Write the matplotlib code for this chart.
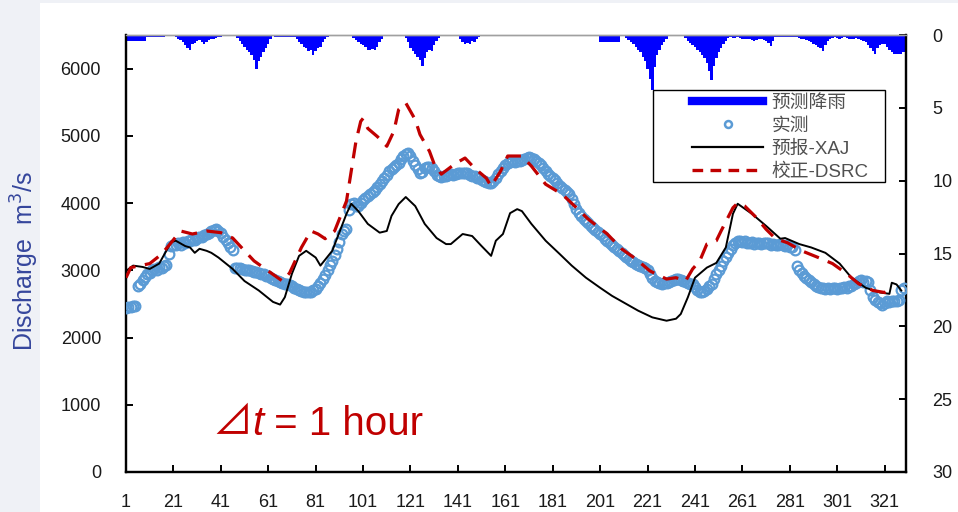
import matplotlib
matplotlib.use("Agg")
import matplotlib.pyplot as plt
from matplotlib.lines import Line2D
from matplotlib.patches import Rectangle
from matplotlib.offsetbox import TextArea, HPacker, AnchoredOffsetbox
import numpy as np

plt.rcParams['font.family'] = ['Liberation Sans', 'Noto Sans CJK SC', 'DejaVu Sans']

# observed discharge (m3/s), one value per time step 1..329
observed = [
    2440, 2450, 2460, 2470, 2470, 2760, 2790, 2850, 2900, 2950,
    2960, 3000, 3020, 3010, 3050, 3040, 3060, 3080, 3250, 3360,
    3380, 3370, 3400, 3380, 3420, 3400, 3440, 3430, 3460, 3450,
    3480, 3490, 3500, 3520, 3540, 3550, 3580, 3600, 3610, 3590,
    3560, 3500, 3450, 3400, 3350, 3300, 3040, 3030, 3040, 3020,
    3010, 3000, 3000, 2990, 2980, 2970, 2960, 2950, 2940, 2920,
    2910, 2890, 2870, 2860, 2840, 2830, 2810, 2800, 2790, 2780,
    2760, 2740, 2720, 2700, 2690, 2680, 2680, 2670, 2680, 2700,
    2720, 2760, 2810, 2870, 2930, 3000, 3080, 3140, 3230, 3320,
    3420, 3540, 3590, 3620, 3900, 3980, 4000, 3960, 3950, 4000,
    4040, 4070, 4100, 4130, 4170, 4200, 4240, 4280, 4330, 4380,
    4420, 4470, 4500, 4540, 4570, 4590, 4650, 4700, 4730, 4740,
    4700, 4620, 4560, 4500, 4450, 4460, 4520, 4540, 4530, 4520,
    4470, 4420, 4400, 4390, 4400, 4410, 4420, 4430, 4420, 4430,
    4440, 4450, 4440, 4450, 4440, 4420, 4410, 4400, 4380, 4370,
    4350, 4330, 4310, 4300, 4300, 4330, 4380, 4430, 4480, 4520,
    4560, 4590, 4610, 4620, 4610, 4620, 4630, 4640, 4650, 4670,
    4680, 4670, 4650, 4620, 4590, 4560, 4520, 4470, 4430, 4400,
    4370, 4340, 4300, 4260, 4220, 4190, 4160, 4130, 4060, 3980,
    3910, 3850, 3810, 3770, 3730, 3700, 3660, 3630, 3600, 3570,
    3540, 3510, 3470, 3440, 3410, 3380, 3350, 3320, 3290, 3260,
    3230, 3200, 3170, 3140, 3120, 3100, 3080, 3060, 3050, 3040,
    3000, 2950, 2890, 2840, 2820, 2810, 2800, 2810, 2810, 2820,
    2840, 2860, 2870, 2870, 2860, 2840, 2830, 2810, 2800, 2790,
    2750, 2700, 2680, 2670, 2690, 2720, 2760, 2800, 2870, 2940,
    3000, 3070, 3140, 3200, 3260, 3320, 3370, 3410, 3430, 3440,
    3420, 3430, 3410, 3400, 3420, 3390, 3400, 3410, 3390, 3400,
    3410, 3400, 3380, 3390, 3370, 3380, 3390, 3370, 3360, 3380,
    3350, 3340, 3300, 3070, 3010, 2960, 2920, 2890, 2850, 2820,
    2790, 2770, 2750, 2740, 2730, 2720, 2730, 2720, 2740, 2730,
    2720, 2740, 2730, 2750, 2740, 2760, 2770, 2790, 2810, 2840,
    2850, 2830, 2840, 2820, 2700, 2600, 2560, 2530, 2510, 2480,
    2520, 2540, 2530, 2550, 2540, 2550, 2560, 2700, 2740,
]

# forecast rainfall (mm), one value per time step
rain = [
    0.4, 0.4, 0.4, 0.4, 0.4, 0.4, 0.4, 0.4, 0.4,
    0.15, 0.15, 0.15, 0.15, 0.15, 0.15, 0.15, 0.15,
    0, 0, 0,
    0.1, 0.15, 0.25, 0.35, 0.5, 0.7, 0.9, 1.0,
    0.6, 0.55, 0.4, 0.35, 0.45, 0.6, 0.45, 0.35, 0.3, 0.25, 0.2, 0.15, 0.12, 0.1, 0.08, 0.05,
    0.03, 0, 0.05,
    0.2, 0.4, 0.6, 0.8, 1.0, 1.2, 1.4, 1.7, 2.3, 1.8, 1.5, 1.2, 0.9, 0.6, 0.3, 0.1,
    0.12, 0.12, 0.12, 0.12, 0.12, 0.12, 0.12, 0.12, 0.12,
    0.3, 0.5, 0.6, 0.8, 0.9, 1.1, 1.0, 1.4, 1.1, 0.9, 0.8, 0.5, 0.3, 0.15,
    0.1, 0.1, 0.1, 0.1, 0.1, 0.1, 0.1, 0.1, 0.1, 0.1,
    0.2, 0.35, 0.5, 0.6, 0.7, 0.85, 1.0, 1.0, 0.95, 1.0, 0.8, 0.5, 0.3,
    0.1, 0.1, 0.1, 0.1, 0.1, 0.1, 0.1, 0.1, 0.1,
    0.2, 0.5, 0.9, 1.1, 1.3, 1.5, 1.7, 2.1, 1.6, 1.2, 1.0, 1.1, 0.7, 0.4, 0.2,
    0.1, 0.1, 0.1, 0.1, 0.1, 0.1, 0.1, 0.1,
    0.3, 0.5, 0.6, 0.55, 0.6, 0.4, 0.5, 0.3, 0.15,
    0.05, 0.05, 0.05,
    0, 0, 0, 0, 0, 0, 0, 0, 0, 0, 0, 0, 0, 0,
    0.08, 0.08, 0, 0, 0.08, 0.08,
    0, 0, 0, 0, 0, 0, 0, 0, 0, 0,
    0.07, 0.07, 0.07, 0.07, 0.07, 0.07, 0.07, 0.07, 0.07, 0.07, 0.07, 0.07, 0.07, 0.07, 0.07, 0.07, 0.07,
    0.45, 0.45, 0.45, 0.45, 0.45, 0.45, 0.45, 0.45, 0.45,
    0, 0.1, 0.2, 0.35, 0.45, 0.6, 0.8, 1.0, 1.2, 1.5, 1.8, 2.3, 3.0, 3.8, 2.2, 1.4, 1.0, 0.7, 0.45, 0.25, 0.1,
    0.05, 0.05, 0.05, 0.05, 0.05, 0.05,
    0.2, 0.4, 0.55, 0.7, 0.8, 1.0, 1.2, 1.35, 1.6, 1.9, 2.5, 3.1, 2.1, 1.6, 1.2, 0.9, 0.6, 0.4, 0.2,
    0.15, 0.2, 0.2, 0.15, 0.2, 0.25, 0.3, 0.3, 0.25, 0.35, 0.4, 0.35, 0.3, 0.3, 0.35, 0.4, 0.55,
    0.75, 0.4,
    0.15, 0.15, 0.15, 0.15, 0.15, 0.15, 0.15, 0.15, 0.15, 0.15,
    0.2, 0.25, 0.3, 0.35, 0.4, 0.5, 0.6, 0.7, 0.8, 0.9, 1.1, 0.7, 0.4, 0.3,
    0.2, 0.15, 0.2, 0.25, 0.2, 0.15, 0.2, 0.25, 0.3, 0.25, 0.2, 0.3, 0.35, 0.4,
    0.5, 0.7, 0.9, 1.1, 1.3, 0.9, 0.7, 0.6, 0.6, 0.8, 1.0, 1.2, 1.3, 1.3, 1.3, 1.3, 1.2,
]

# XAJ forecast line, read at these time steps
xaj_t = [1, 4, 8, 11, 15, 18, 20, 22, 26, 28, 30, 32, 35, 37, 40, 46, 51, 57, 63, 66,
         68, 71, 74, 77, 81, 83, 88, 94, 96, 99, 103, 108, 111, 113, 116, 119, 123, 127,
         132, 136, 138, 143, 147, 151, 155, 157, 160, 163, 166, 168, 172, 178, 184, 189,
         195, 201, 206, 212, 217, 223, 229, 233, 235, 238, 241, 246, 250, 254, 257, 259,
         265, 271, 277, 279, 285, 290, 296, 302, 307, 313, 319, 323, 324, 326, 328]
xaj_q = [2990, 3070, 3050, 3020, 3100, 3290, 3420, 3440, 3360, 3340, 3260, 3320, 3290,
         3260, 3190, 3020, 2840, 2700, 2530, 2490, 2600, 2950, 3215, 3290, 3190, 3070,
         3290, 3840, 3990, 3880, 3690, 3560, 3585, 3810, 3985, 4090, 3955, 3690, 3480,
         3390, 3390, 3540, 3510, 3360, 3215, 3440, 3540, 3850, 3910, 3880, 3690, 3440,
         3240, 3070, 2890, 2740, 2620, 2500, 2400, 2300, 2250, 2280, 2350, 2600, 2890,
         3040, 3110, 3340, 3840, 3990, 3840, 3660, 3470, 3480, 3390, 3340, 3260, 3100,
         2890, 2740, 2670, 2650, 2815, 2790, 2700]

# DSRC corrected line
dsrc_t = [1, 3, 11, 16, 20, 24, 29, 35, 41, 46, 51, 55, 61, 67, 70, 75, 79, 82, 85, 89,
          94, 96, 98, 100, 101, 103, 107, 111, 114, 116, 119, 123, 125, 129, 131, 134,
          140, 144, 148, 153, 155, 159, 162, 168, 172, 178, 185, 191, 196, 204, 210, 216,
          222, 229, 233, 237, 240, 243, 246, 250, 252, 257, 259, 262, 267, 271, 275, 280,
          286, 293, 299, 305, 310, 316, 321, 325]
dsrc_q = [2890, 3040, 3100, 3240, 3410, 3585, 3540, 3585, 3560, 3480, 3290, 3140, 2990,
          2840, 2960, 3340, 3585, 3540, 3470, 3585, 4030, 4475, 4920, 5215, 5260, 5110,
          4990, 4845, 5070, 5390, 5490, 5240, 5020, 4770, 4580, 4430, 4590, 4670, 4520,
          4370, 4250, 4475, 4700, 4700, 4550, 4280, 4130, 3930, 3760, 3540, 3320, 3170,
          2990, 2870, 2890, 2840, 3020, 3140, 3390, 3440, 3585, 3930, 4000, 3955, 3780,
          3610, 3470, 3410, 3290, 3190, 3100, 2950, 2800, 2700, 2670, 2740]

xtick_vals = list(range(1, 330, 20))
rain_ticks = [0, 5, 10, 15, 20, 25, 30]

fig = plt.figure(figsize=(9.58, 5.12), dpi=100, facecolor='#eff1f6')
fig.patches.append(Rectangle((40 / 958, 0), 1, 509 / 512, transform=fig.transFigure,
                             facecolor='white', edgecolor='none', zorder=0))

ax = fig.add_axes([126 / 958, 40 / 512, 780 / 958, 437 / 512])
ax.set_facecolor('none')
ax2 = ax.twinx()

# rain bars hanging from the top
t_rain = np.arange(1, len(rain) + 1)
ax2.bar(t_rain, rain, width=1.0, color='#0000ff', linewidth=0)
ax2.set_ylim(30, 0)
ax2.set_yticks(rain_ticks)

t_obs = np.arange(1, len(observed) + 1)
ax.plot(t_obs, observed, linestyle='none', marker='o', markersize=7,
        markerfacecolor='none', markeredgecolor='#5b9bd5', markeredgewidth=1.6, zorder=3)
ax.plot(xaj_t, xaj_q, color='black', lw=1.4, zorder=4)
ax.plot(dsrc_t, dsrc_q, color='#c00000', lw=2.3, dashes=(5, 3), zorder=5)

ax.set_xlim(1, 330)
ax.set_ylim(0, 6500)
ax.set_yticks(range(0, 7000, 1000))
ax.set_xticks(xtick_vals)

for a in (ax, ax2):
    for s in ('left', 'right', 'bottom'):
        a.spines[s].set_linewidth(1.6)
        a.spines[s].set_color('black')
    a.spines['top'].set_color('#a0a0a0')
    a.spines['top'].set_linewidth(1.0)
ax2.set_zorder(1)
ax.set_zorder(2)

ax.tick_params(axis='both', direction='in', length=5, width=1.4, labelsize=13,
               labelcolor='#1a1a1a')
ax.tick_params(axis='y', pad=18)
ax.tick_params(axis='x', pad=16)
ax2.tick_params(axis='y', direction='in', length=5, width=1.4, labelsize=13,
                labelcolor='#1a1a1a', pad=19)

fig.text(25 / 958, 251 / 512, 'Discharge  m$^3$/s', rotation=90, ha='center', va='center',
         fontsize=18, color='#35469c')

# "⊿t = 1 hour" annotation
red = '#c00000'
parts = [
    TextArea('⊿', textprops=dict(fontsize=29, color=red,
                                 family=['Noto Sans CJK SC', 'DejaVu Sans'])),
    TextArea('t', textprops=dict(fontsize=29, color=red, style='italic')),
    TextArea(' = 1 hour', textprops=dict(fontsize=29, color=red)),
]
dt_box = AnchoredOffsetbox(loc='center left', child=HPacker(children=parts, align='baseline',
                                                            pad=0, sep=0),
                           pad=0, borderpad=0, frameon=False,
                           bbox_to_anchor=(0.11, 0.112), bbox_transform=ax.transAxes)
ax.add_artist(dt_box)

# legend: entries without frame, box drawn separately
handles = [
    Line2D([], [], color='#0000ff', lw=6),
    Line2D([], [], linestyle='none', marker='o', markersize=5, markerfacecolor='none',
           markeredgecolor='#5b9bd5', markeredgewidth=1.8),
    Line2D([], [], color='black', lw=1.6),
    Line2D([], [], color='#c00000', lw=2.4, dashes=(3.2, 2.2)),
]
labels = ['预测降雨', '实测', '预报-XAJ', '校正-DSRC']
leg = ax.legend(handles, labels, loc='upper left', bbox_to_anchor=(0.7256, 0.864),
                fontsize=13.5, frameon=False, handlelength=3.8, labelspacing=0.31,
                borderpad=0, handletextpad=0.43, borderaxespad=0)
for txt in leg.get_texts():
    txt.set_color('#505050')
ax.add_patch(Rectangle((0.6756, 0.6636), 0.2975, 0.2104, transform=ax.transAxes,
                       facecolor='white', edgecolor='black', lw=1.0, zorder=6))
leg.set_zorder(7)

fig.savefig('out.png', dpi=100, facecolor=fig.get_facecolor())
